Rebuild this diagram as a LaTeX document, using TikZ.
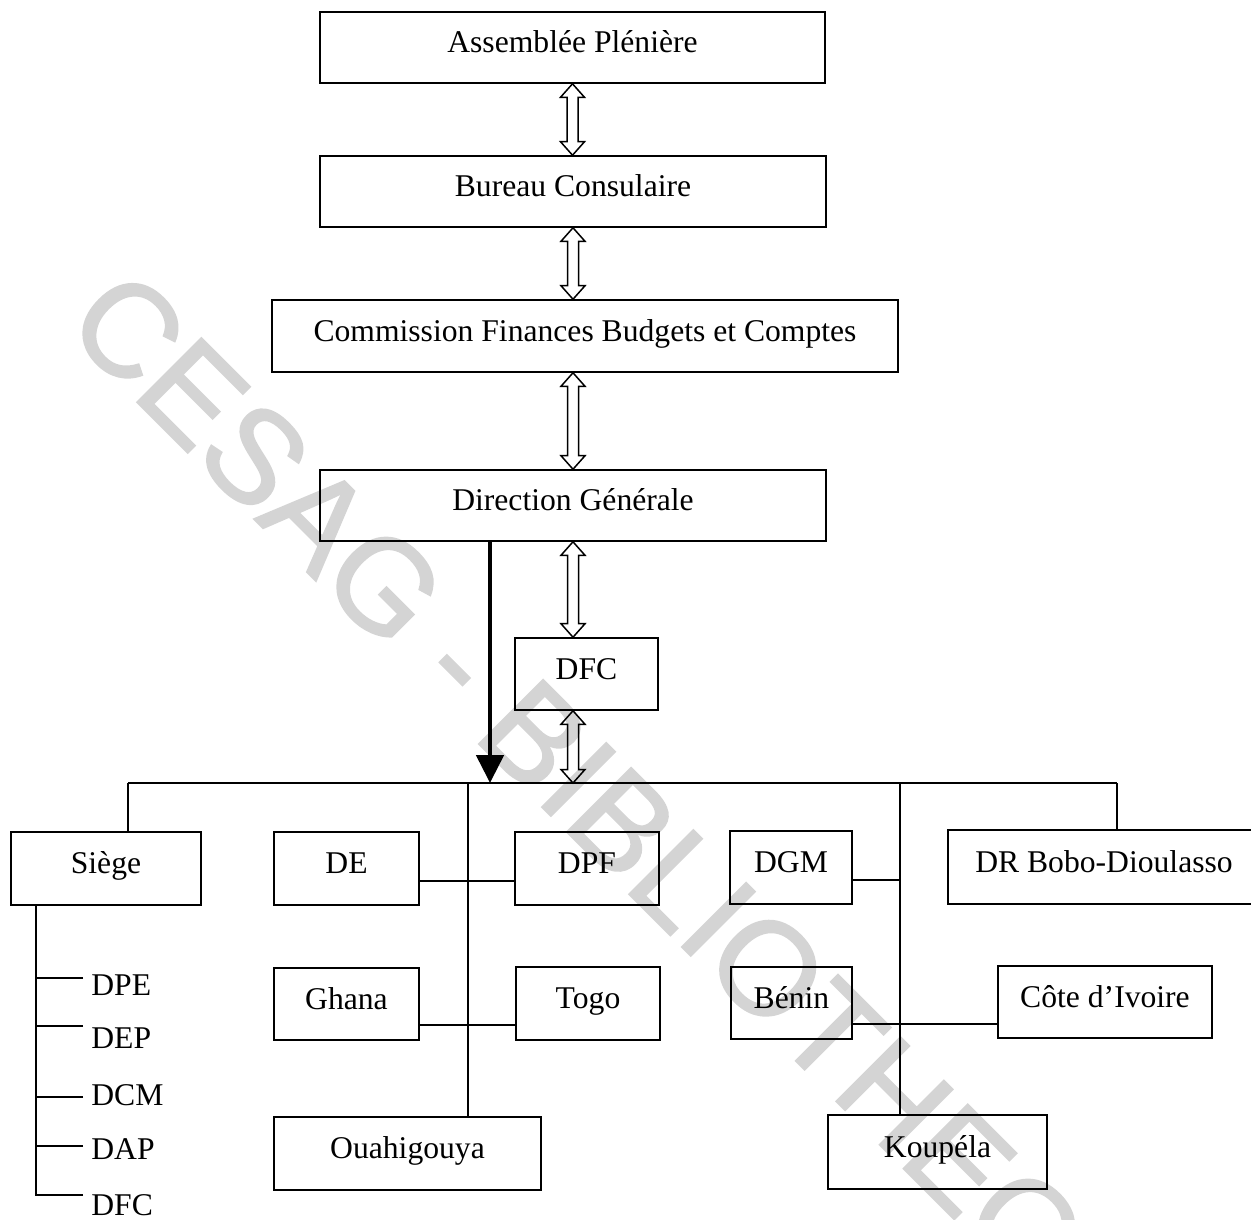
\documentclass[tikz,border=0pt]{standalone}
\usepackage{fontspec}
\setmainfont{Liberation Serif}
\newfontfamily\wmfont[FakeBold=1.5]{Liberation Sans}
\usepackage{tikz}
\usetikzlibrary{%
  arrows.meta,%
  calc%
}
\tikzset{>=latex}
\tikzset{
  box/.style={draw,line width=0.9pt,inner sep=0pt,
    font=\fontsize{18}{21}\selectfont,text height=12pt,text depth=6pt},
  item/.style={anchor=west,inner sep=0pt,font=\fontsize{18}{21}\selectfont},
  link/.style={line width=0.9pt},
  mainflow/.style={line width=2.8pt,-{Triangle[length=0.56cm,width=0.54cm]}},
  twoway/.style={line width=0.85pt,to path={
    let \p1=(\tikztostart), \p2=(\tikztotarget) in
    (\x1,\y1) -- (\x1+0.24cm,\y1-0.27cm) -- (\x1+0.11cm,\y1-0.27cm)
    -- (\x1+0.11cm,\y2+0.27cm) -- (\x1+0.24cm,\y2+0.27cm) -- (\x1,\y2)
    -- (\x1-0.24cm,\y2+0.27cm) -- (\x1-0.11cm,\y2+0.27cm)
    -- (\x1-0.11cm,\y1-0.27cm) -- (\x1-0.24cm,\y1-0.27cm) -- cycle}},
  watermark/.style={rotate=-45,inner sep=0pt,text=black!17,
    font=\wmfont\fontsize{75}{82}\selectfont}
}
\begin{document}
\begin{tikzpicture}
        \useasboundingbox (0,0) rectangle (25.02cm,-24.38cm);
        \node[watermark] (wm) at (12.7cm,-17.05cm) {CESAG - BIBLIOTHEQUE};

        % upper chain
        \node[box,minimum width=10.1cm,minimum height=1.42cm] (ap)
        at (11.45cm,-0.95cm) {Assemblée Plénière};
        \node[box,minimum width=10.12cm,minimum height=1.42cm] (bc)
        at (11.46cm,-3.83cm) {Bureau Consulaire};
        \node[box,minimum width=12.52cm,minimum height=1.44cm] (cfbc)
        at (11.7cm,-6.72cm) {Commission Finances Budgets et Comptes};
        \node[box,minimum width=10.12cm,minimum height=1.42cm] (dg)
        at (11.46cm,-10.11cm) {Direction Générale};
        \node[box,minimum width=2.86cm,minimum height=1.44cm] (dfc)
        at (11.73cm,-13.48cm) {DFC};

        \draw[twoway] (ap.south) to (bc.north);
        \draw[twoway] (bc.south) to (cfbc.north -| bc.south);
        \draw[twoway] (cfbc.south -| bc.south) to (dg.north);
        \draw[twoway] (dg.south) to (dfc.north -| dg.south);

        % bus
        \coordinate (busL) at (2.56cm,-15.66cm);
        \coordinate (busR) at (22.34cm,-15.66cm);
        \coordinate (drop) at (9.8cm,-15.66cm);
        \coordinate (wtrunk) at (9.36cm,-15.66cm);
        \coordinate (etrunk) at (18cm,-15.66cm);
        \draw[twoway] (dfc.south -| dg.south) to (dg.south |- busL);
        \draw[mainflow] (dg.south -| drop) -- (drop);

        % units
        \node[box,minimum width=3.8cm,minimum height=1.46cm] (siege)
        at (2.12cm,-17.37cm) {Siège};
        \node[box,minimum width=2.9cm,minimum height=1.46cm] (de)
        at (6.93cm,-17.37cm) {DE};
        \node[box,minimum width=2.88cm,minimum height=1.46cm] (dpf)
        at (11.74cm,-17.37cm) {DPF};
        \node[box,minimum width=2.44cm,minimum height=1.46cm] (dgm)
        at (15.82cm,-17.35cm) {DGM};
        \node[box,minimum width=6.24cm,minimum height=1.48cm] (drbobo)
        at (22.08cm,-17.34cm) {DR Bobo-Dioulasso};
        \node[box,minimum width=2.9cm,minimum height=1.44cm] (ghana)
        at (6.93cm,-20.08cm) {Ghana};
        \node[box,minimum width=2.88cm,minimum height=1.46cm] (togo)
        at (11.76cm,-20.07cm) {Togo};
        \node[box,minimum width=2.42cm,minimum height=1.44cm] (benin)
        at (15.83cm,-20.06cm) {Bénin};
        \node[box,minimum width=4.28cm,minimum height=1.44cm] (cote)
        at (22.1cm,-20.04cm) {Côte d’Ivoire};
        \node[box,minimum width=5.34cm,minimum height=1.46cm] (ouahi)
        at (8.15cm,-23.07cm) {Ouahigouya};
        \node[box,minimum width=4.38cm,minimum height=1.48cm] (koupela)
        at (18.75cm,-23.04cm) {Koupéla};

        \draw[link] (busL) -- (busR);
        \draw[link] (busL) -- (busL |- siege.north);
        \draw[link] (busR) -- (busR |- drbobo.north);
        \draw[link] (wtrunk) -- (wtrunk |- ouahi.north);
        \draw[link] (etrunk) -- (etrunk |- koupela.north);

        \draw[link] ([yshift=-0.25cm]de.east) coordinate (d1) -- (d1 -| dpf.west);
        \draw[link] ([yshift=-0.25cm]dgm.east) coordinate (g1) -- (g1 -| etrunk);
        \draw[link] ([yshift=-0.42cm]ghana.east) coordinate (g2) -- (g2 -| togo.west);
        \draw[link] ([yshift=-0.42cm]benin.east) coordinate (b1) -- (b1 -| cote.west);

        % siege directions
        \node[item] (dpe) at (1.82cm,-19.7cm) {DPE};
        \node[item] (dep) at (1.82cm,-20.76cm) {DEP};
        \node[item] (dcm) at (1.82cm,-21.9cm) {DCM};
        \node[item] (dap) at (1.82cm,-22.98cm) {DAP};
        \node[item] (dfcs) at (1.82cm,-24.1cm) {DFC};
        \draw[link] ([xshift=-1.4cm]siege.south) -- ++(0,-5.8cm);
        \draw[link] ([yshift=0.14cm]dpe.west) ++(-0.16cm,0) -- ++(-0.94cm,0);
        \draw[link] ([yshift=0.24cm]dep.west) ++(-0.16cm,0) -- ++(-0.94cm,0);
        \draw[link] ([yshift=-0.04cm]dcm.west) ++(-0.16cm,0) -- ++(-0.94cm,0);
        \draw[link] ([yshift=0.06cm]dap.west) ++(-0.16cm,0) -- ++(-0.94cm,0);
        \draw[link] ([yshift=0.2cm]dfcs.west) ++(-0.16cm,0) -- ++(-0.94cm,0);
      \end{tikzpicture}
\end{document}
